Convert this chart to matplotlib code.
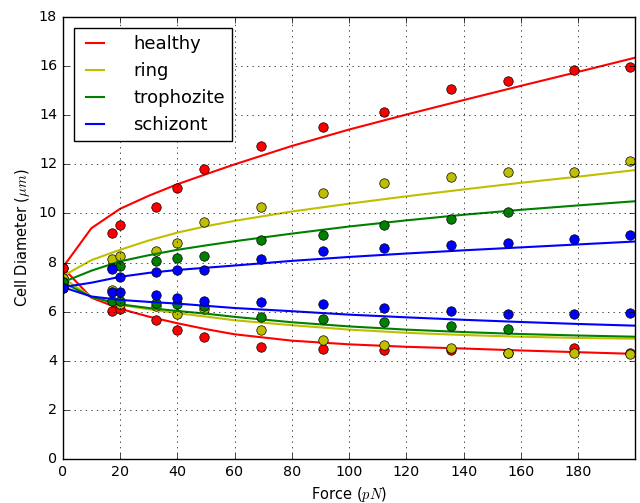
import numpy as np
import matplotlib
matplotlib.use('Agg')
import matplotlib.pyplot as plt
from matplotlib.ticker import MultipleLocator

plt.style.use('classic')
plt.rcParams['mathtext.fontset'] = 'cm'

# measured forces (pN)
force = [0, 17.1, 20, 32.4, 40, 49.3, 69.3, 90.9, 112.3, 135.5, 155.6, 178.6, 198.2]
force_troph = force[:11]

# measured diameters, upper branch (axial) and lower branch (transverse)
healthy_up = [7.8, 9.2, 9.52, 10.27, 11.04, 11.82, 12.75, 13.53, 14.14, 15.08, 15.38, 15.83, 15.98]
healthy_lo = [7.8, 6.03, 6.1, 5.65, 5.26, 4.96, 4.58, 4.5, 4.42, 4.42, 4.33, 4.51, 4.3]
ring_up = [7.38, 8.15, 8.27, 8.48, 8.8, 9.66, 10.28, 10.83, 11.25, 11.47, 11.68, 11.68, 12.12]
ring_lo = [7.38, 6.89, 6.32, 6.23, 5.92, 6.1, 5.27, 4.85, 4.65, 4.52, 4.31, 4.31, 4.28]
troph_up = [7.2, 7.8, 7.85, 8.07, 8.17, 8.27, 8.92, 9.13, 9.55, 9.76, 10.08]
troph_lo = [7.2, 6.45, 6.45, 6.37, 6.33, 6.25, 5.8, 5.7, 5.6, 5.4, 5.29]
schiz_up = [6.98, 7.74, 7.42, 7.63, 7.71, 7.7, 8.16, 8.48, 8.58, 8.7, 8.8, 8.96, 9.12]
schiz_lo = [6.98, 6.8, 6.8, 6.67, 6.57, 6.42, 6.38, 6.3, 6.15, 6.04, 5.92, 5.92, 5.93]

# model curves
f_fit = [0, 10, 20, 30, 40, 50, 60, 80, 100, 120, 140, 160, 180, 200]
healthy_fit_up = [7.8, 9.4, 10.19, 10.72, 11.19, 11.6, 12.0, 12.75, 13.42, 14.03, 14.62, 15.2, 15.77, 16.35]
healthy_fit_lo = [7.8, 6.57, 6.12, 5.8, 5.53, 5.29, 5.08, 4.82, 4.67, 4.57, 4.5, 4.42, 4.35, 4.28]
ring_fit_up = [7.45, 8.1, 8.52, 8.9, 9.22, 9.48, 9.7, 10.08, 10.4, 10.7, 10.98, 11.25, 11.5, 11.77]
ring_fit_lo = [7.38, 6.6, 6.28, 6.1, 5.94, 5.8, 5.65, 5.45, 5.27, 5.14, 5.05, 4.98, 4.93, 4.9]
troph_fit_up = [7.2, 7.67, 8.05, 8.3, 8.52, 8.7, 8.87, 9.18, 9.47, 9.72, 9.95, 10.15, 10.33, 10.5]
troph_fit_lo = [7.2, 6.6, 6.3, 6.15, 6.03, 5.92, 5.79, 5.57, 5.4, 5.27, 5.17, 5.09, 5.03, 4.98]
schiz_fit_up = [7.0, 7.18, 7.42, 7.58, 7.7, 7.79, 7.88, 8.07, 8.23, 8.37, 8.5, 8.62, 8.74, 8.86]
schiz_fit_lo = [7.0, 6.62, 6.48, 6.4, 6.33, 6.24, 6.15, 6.02, 5.88, 5.77, 5.67, 5.58, 5.5, 5.43]

fig = plt.figure(figsize=(6.4, 5.03), dpi=100, facecolor='white')
ax = fig.add_subplot(111)
fig.subplots_adjust(left=0.098, right=0.992, top=0.966, bottom=0.0875)

series = [
    ('healthy', 'r', force, healthy_up, healthy_lo, healthy_fit_up, healthy_fit_lo),
    ('ring', 'y', force, ring_up, ring_lo, ring_fit_up, ring_fit_lo),
    ('trophozite', 'g', force_troph, troph_up, troph_lo, troph_fit_up, troph_fit_lo),
    ('schizont', 'b', force, schiz_up, schiz_lo, schiz_fit_up, schiz_fit_lo),
]

for name, c, f, up, lo, fup, flo in series:
    ax.plot(f_fit, fup, color=c, lw=1.5, label=name)
    ax.plot(f_fit, flo, color=c, lw=1.5)
    ax.plot(f, up, 'o', color=c, markersize=6.8, markeredgecolor='k')
    ax.plot(f, lo, 'o', color=c, markersize=6.8, markeredgecolor='k')

ax.set_xlim(0, 199.8)
ax.set_ylim(0, 18)
ax.xaxis.set_major_locator(MultipleLocator(20))
ax.yaxis.set_major_locator(MultipleLocator(2))
ax.grid(True)
ax.tick_params(labelsize=10.3)
ax.set_xlabel('Force ($pN$)', fontsize=10.5)
ax.set_ylabel('Cell Diameter ($\\mu m$)', fontsize=10.5)
ax.legend(loc='upper left', fontsize=13, handlelength=1.6, handletextpad=1.3,
          labelspacing=0.5, borderaxespad=0.6)

plt.savefig('out.png', dpi=100, facecolor='white')
